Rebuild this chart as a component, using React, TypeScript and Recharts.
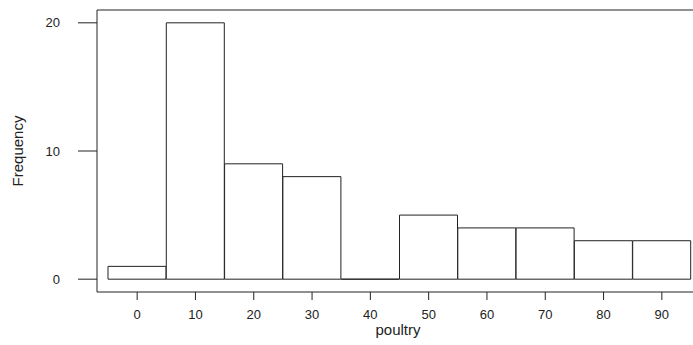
import { Bar, BarChart, Label, ReferenceLine, XAxis, YAxis } from "recharts";

const bins = ["0", "10", "20", "30", "40", "50", "60", "70", "80", "90"];
const counts = [1, 20, 9, 8, 0, 5, 4, 4, 3, 3];
const yTicks = [0, 10, 20];
const yRange = [-1, 21];

const data = bins.map((bin, i) => ({ bin, count: counts[i] }));

const ink = "#222";
const font = "'Liberation Sans', Arial, sans-serif";

// draw the bin outline as a path so an empty bin still leaves its base line
function BinShape(props: any) {
  const { x, y, width, height } = props;
  const d = `M${x},${y + height}V${y}H${x + width}V${y + height}Z`;
  return <path d={d} fill="#fff" stroke={ink} strokeWidth={1} />;
}

export default function App() {
  return (
    <div style={{ position: "absolute", left: 0, top: 0, background: "#fff" }}>
      <BarChart
        width={693}
        height={345}
        data={data}
        margin={{ top: 10, right: 0, bottom: 0, left: 0 }}
        barCategoryGap={0}
        barGap={0}
      >
        <XAxis
          dataKey="bin"
          height={53}
          padding={{ left: 11, right: 2 }}
          stroke={ink}
          tickSize={8}
          tickMargin={10}
          tick={{ fill: ink, fontSize: 13, fontFamily: font }}
          interval={0}
        >
          <Label
            value="poultry"
            position="insideBottom"
            offset={10}
            dx={3}
            style={{ fill: ink, fontSize: 15, fontFamily: font }}
          />
        </XAxis>
        <YAxis
          width={97}
          domain={yRange}
          ticks={yTicks}
          stroke={ink}
          tickSize={19}
          tickMargin={18}
          tick={{ fill: ink, fontSize: 13, fontFamily: font }}
        >
          <Label
            value="Frequency"
            angle={-90}
            position="insideLeft"
            offset={18}
            style={{ fill: ink, fontSize: 15, fontFamily: font, textAnchor: "middle" }}
          />
        </YAxis>
        {/* top edge of the plot frame */}
        <ReferenceLine y={yRange[1]} stroke={ink} strokeWidth={1} />
        <Bar dataKey="count" shape={BinShape} isAnimationActive={false} />
      </BarChart>
    </div>
  );
}
